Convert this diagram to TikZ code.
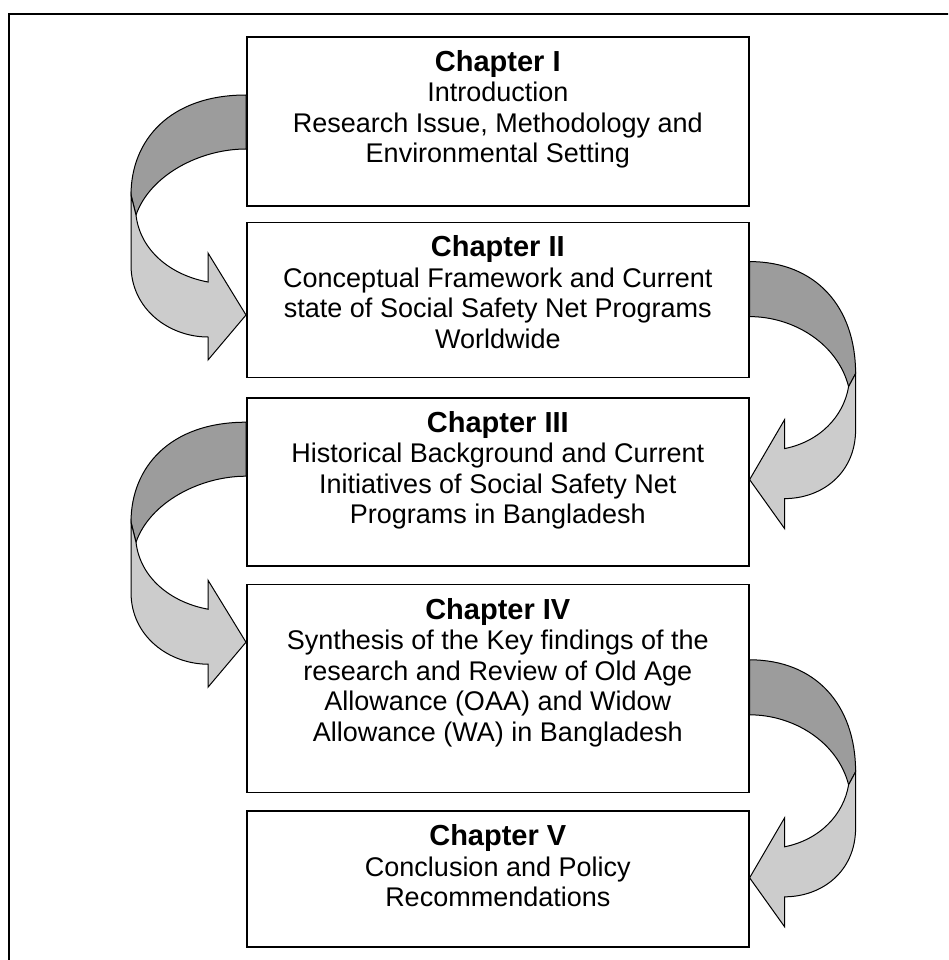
\documentclass[tikz,border=0pt]{standalone}
\usepackage{fontspec}
\setmainfont{Liberation Sans}
\usetikzlibrary{calc,positioning}
\definecolor{RibbonDark}{HTML}{9C9C9C}
\definecolor{RibbonLight}{HTML}{CCCCCC}

% ribbon arrow leaving a box on the left side, start point given
\newcommand{\curlleft}[1]{%
  \begin{scope}[shift={#1}]
    \filldraw[ribbon,fill=RibbonDark] (0,0) .. controls (-76,0) and (-115,45) .. (-115,100)
      -- (-110,120) .. controls (-96,80) and (-46,54) .. (0,54) -- cycle;
    \filldraw[ribbon,fill=RibbonLight] (-115,100) -- (-115,170)
      .. controls (-115,215) and (-76,242) .. (-38,242) -- (-38,265) -- (0,220)
      -- (-38,158) -- (-38,187) .. controls (-76,180) and (-106,155) .. (-110,120) -- cycle;
  \end{scope}}
% same on the right side
\newcommand{\curlright}[1]{%
  \begin{scope}[shift={#1}]
    \filldraw[ribbon,fill=RibbonDark] (0,0) .. controls (66,0) and (106,45) .. (106,112)
      -- (99,125) .. controls (88,82) and (44,55) .. (0,55) -- cycle;
    \filldraw[ribbon,fill=RibbonLight] (106,112) -- (106,168)
      .. controls (106,212) and (72,237) .. (35,237) -- (35,267) -- (0,218)
      -- (35,158) -- (35,187) .. controls (70,180) and (94,155) .. (99,125) -- cycle;
  \end{scope}}

\begin{document}
\begin{tikzpicture}[x=1pt,y=-1pt,
    chapbox/.style={draw,line width=1.6pt,minimum width=502pt,inner sep=0pt},
    chaptext/.style={align=center,inner sep=0pt,font=\fontsize{27}{30.5}\selectfont},
    ribbon/.style={draw=black,line width=1pt,line join=miter}]
  \useasboundingbox (0,0) rectangle (948,960);
  \clip (0,0) rectangle (948,960);
  \draw[line width=1.6pt] (9,980) -- (9,14) -- (970,14);

  \node[chapbox,minimum height=169pt,anchor=north west] (c1) at (246,36) {};
  \node[chapbox,minimum height=155pt,below=15pt of c1] (c2) {};
  \node[chapbox,minimum height=168pt,below=19pt of c2] (c3) {};
  \node[chapbox,minimum height=208pt,below=17pt of c3] (c4) {};
  \node[chapbox,minimum height=136pt,below=17pt of c4] (c5) {};

  \node[chaptext,below=14pt of c1.north] (t1)
    {{\bfseries\fontsize{29}{30.5}\selectfont Chapter I}\\ Introduction\\
     Research Issue, Methodology and\\ Environmental Setting};
  \node[chaptext,below=14pt of c2.north] (t2)
    {{\bfseries\fontsize{29}{30.5}\selectfont Chapter II}\\ Conceptual Framework and Current\\
     state of Social Safety Net Programs\\ Worldwide};
  \node[chaptext,below=14pt of c3.north] (t3)
    {{\bfseries\fontsize{29}{30.5}\selectfont Chapter III}\\ Historical Background and Current\\
     Initiatives of Social Safety Net\\ Programs in Bangladesh};
  \node[chaptext,below=14pt of c4.north] (t4)
    {{\bfseries\fontsize{29}{30.5}\selectfont Chapter IV}\\ Synthesis of the Key findings of the\\
     research and Review of Old Age\\ Allowance (OAA) and Widow\\
     Allowance (WA) in Bangladesh};
  \node[chaptext,below=14pt of c5.north] (t5)
    {{\bfseries\fontsize{29}{30.5}\selectfont Chapter V}\\ Conclusion and Policy\\
     Recommendations};

  % connectors between the chapters
  \curlleft{($(c1.north west)+(0,59)$)}
  \curlright{($(c2.north east)+(0,40)$)}
  \curlleft{($(c3.north west)+(0,25)$)}
  \curlright{($(c4.north east)+(0,76)$)}
\end{tikzpicture}
\end{document}
